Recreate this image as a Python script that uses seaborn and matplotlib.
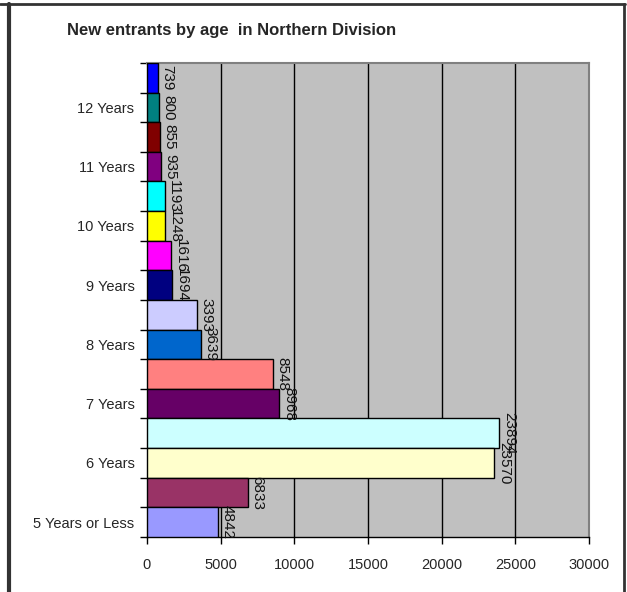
import seaborn as sns
from matplotlib import pyplot as plt
from matplotlib.lines import Line2D
import numpy as np
import pandas as pd

# bars from bottom to top
age_labels = ['5 Years or Less', '', '6 Years', '', '7 Years', '', '8 Years', '',
              '9 Years', '', '10 Years', '', '11 Years', '', '12 Years', '']
entrants = [4842, 6833, 23570, 23894, 8968, 8548, 3639, 3393,
            1694, 1616, 1248, 1193, 935, 855, 800, 739]
bar_colors = ['#9999FF', '#993366', '#FFFFCC', '#CCFFFF', '#660066', '#FF8080', '#0066CC', '#CCCCFF',
              '#000080', '#FF00FF', '#FFFF00', '#00FFFF', '#800080', '#800000', '#008080', '#0000FF']
x_ticks = [0, 5000, 10000, 15000, 20000, 25000, 30000]

sns.set_style('white')
plt.rcParams['font.family'] = ['Liberation Sans', 'DejaVu Sans']

df = pd.DataFrame({'slot': [f's{i}' for i in range(len(entrants))],
                   'label': age_labels, 'value': entrants})
order = list(df['slot'][::-1])  # top of chart first
pal = dict(zip(df['slot'], bar_colors))

fig = plt.figure(figsize=(6.27, 5.92), dpi=100)
ax = fig.add_axes([0.2344, 0.0929, 0.705, 0.8007])
ax.set_facecolor('#C0C0C0')
sns.barplot(data=df, x='value', y='slot', hue='slot', order=order, hue_order=order,
            palette=pal, dodge=False, width=1.0, legend=False,
            edgecolor='black', linewidth=1, saturation=1, ax=ax, zorder=3)

for cont in ax.containers:
    ax.bar_label(cont, rotation=-90, padding=2, fontsize=11, color='#111111')

ax.set_xlim(0, 30000)
ax.set_ylim(len(entrants) - 0.5, -0.5)
ax.set_xticks(x_ticks)
ax.set_xticklabels([str(t) for t in x_ticks], fontsize=10.5)
ax.xaxis.grid(True, color='black', linewidth=1, zorder=1)
ax.set_axisbelow(True)

n = len(entrants)
pos = [n - 1 - i for i in range(n) if age_labels[i]]
ax.set_yticks(pos)
ax.set_yticklabels([l for l in age_labels if l], fontsize=10.5)
ax.set_yticks(np.arange(-0.5, n, 1), minor=True)
ax.tick_params(axis='y', which='major', length=0, pad=9)
ax.tick_params(axis='y', which='minor', length=5, width=1, color='black', left=True)
ax.tick_params(axis='x', length=5, width=1, color='black', bottom=True, pad=10)
ax.set_xlabel('')
ax.set_ylabel('')

for side in ['left', 'bottom']:
    ax.spines[side].set_color('black')
    ax.spines[side].set_linewidth(1)
for side in ['top', 'right']:
    ax.spines[side].set_color('#808080')
    ax.spines[side].set_linewidth(1.5)

fig.text(0.107, 0.948, 'New entrants by age  in Northern Division', fontsize=12,
         fontweight='bold', va='center', ha='left')

# frame around the chart
fig.add_artist(Line2D([0, 0.997], [0.993, 0.993], color='#333333', linewidth=2))
fig.add_artist(Line2D([0.0145, 0.0145], [0, 0.993], color='#333333', linewidth=3))
fig.add_artist(Line2D([0.996, 0.996], [0, 0.993], color='#333333', linewidth=2))

fig.savefig('out.png', dpi=100)
